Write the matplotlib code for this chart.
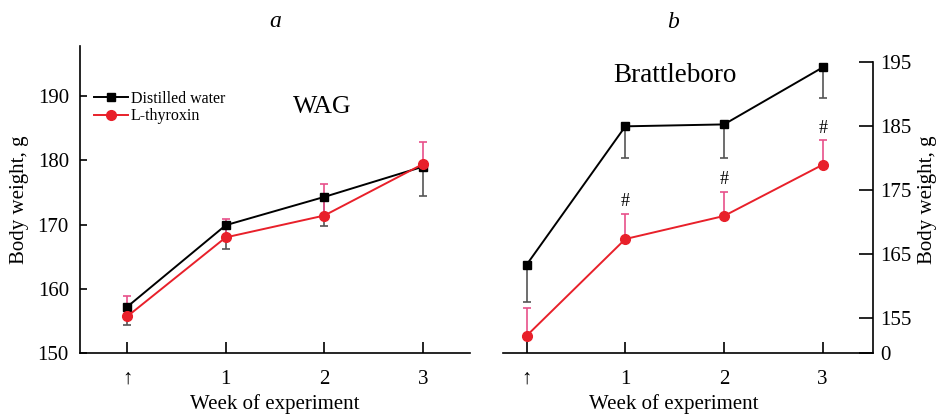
import matplotlib
matplotlib.use('Agg')
import matplotlib.pyplot as plt
import numpy as np

plt.rcParams['font.family'] = ['Liberation Serif', 'DejaVu Serif']

# Data
weeks = [0, 1, 2, 3]
week_labels = ['↑', '1', '2', '3']

# a: WAG
wag_water = [157.2, 169.9, 174.3, 179.0]
wag_water_err = [2.9, 3.7, 4.6, 4.5]
wag_thyr = [155.7, 168.0, 171.4, 179.4]
wag_thyr_err = [3.1, 2.8, 4.9, 3.4]

# b: Brattleboro
br_water = [163.4, 185.0, 185.3, 194.2]
br_water_err = [5.9, 5.0, 5.2, 4.8]
br_thyr = [152.3, 167.4, 171.0, 179.0]
br_thyr_err = [4.4, 3.9, 3.7, 3.8]
br_yticks = [149.6, 155, 165, 175, 185, 195]
br_ytick_labels = ['0', '155', '165', '175', '185', '195']

black = 'black'
red = '#e8202a'
pink = '#e8508a'
grey = '#555555'

fig = plt.figure(figsize=(9.38, 4.17), dpi=100)
ax1 = fig.add_axes([80 / 938, 1 - 353 / 417, 390 / 938, 307 / 417])
ax2 = fig.add_axes([503 / 938, 1 - 353 / 417, 370 / 938, (353 - 62.3) / 417])


def draw(ax, water, water_err, thyr, thyr_err):
    ax.errorbar(weeks, water, yerr=[water_err, [0] * 4], fmt='none',
                ecolor=grey, elinewidth=1.2, capsize=3, capthick=1.2, zorder=2)
    ax.errorbar(weeks, thyr, yerr=[[0] * 4, thyr_err], fmt='none',
                ecolor=pink, elinewidth=1.2, capsize=3, capthick=1.2, zorder=2)
    ax.plot(weeks, water, color=black, lw=1.4, marker='s', ms=6,
            label='Distilled water', zorder=3, clip_on=False)
    ax.plot(weeks, thyr, color=red, lw=1.4, marker='o', ms=7,
            label='L-thyroxin', zorder=4, clip_on=False)
    ax.set_xticks(weeks)
    ax.set_xticklabels(week_labels)
    ax.tick_params(axis='x', direction='in', length=8, width=1.2,
                   labelsize=15, pad=12)
    for s in ax.spines.values():
        s.set_linewidth(1.2)


draw(ax1, wag_water, wag_water_err, wag_thyr, wag_thyr_err)
ax1.set_xlim(-0.48, 3.48)
ax1.set_ylim(150, 197.8)
ax1.set_yticks([150, 160, 170, 180, 190])
ax1.tick_params(axis='y', direction='in', length=5, width=1.2,
                labelsize=15, pad=8)
ax1.spines['top'].set_visible(False)
ax1.spines['right'].set_visible(False)
ax1.set_ylabel('Body weight, g', fontsize=15, labelpad=6)
ax1.set_xlabel('Week of experiment', fontsize=15)
ax1.xaxis.set_label_coords(0.5, -0.134)
ax1.text(0.62, 0.8, 'WAG', transform=ax1.transAxes, fontsize=18.5,
         ha='center', va='center')
ax1.legend(loc='upper left', bbox_to_anchor=(0.02, 0.875), frameon=False,
           fontsize=11.5, handlelength=2.1, handletextpad=0.2,
           labelspacing=0.1, borderaxespad=0)
ax1.set_title('a', fontsize=17, style='italic', pad=14)

draw(ax2, br_water, br_water_err, br_thyr, br_thyr_err)
ax2.set_xlim(-0.24, 3.51)
ax2.set_ylim(149.6, 195)
ax2.set_yticks(br_yticks)
ax2.set_yticklabels(br_ytick_labels)
ax2.yaxis.tick_right()
ax2.tick_params(axis='y', direction='in', length=10, width=1.2,
                labelsize=15, pad=5)
ax2.spines['top'].set_visible(False)
ax2.spines['left'].set_visible(False)
fig.text(927 / 938, 1 - 200 / 417, 'Body weight, g', fontsize=15,
         rotation=90, ha='center', va='center')
ax2.set_xlabel('Week of experiment', fontsize=15)
ax2.xaxis.set_label_coords(0.462, -0.141)
ax2.text(0.465, 0.955, 'Brattleboro', transform=ax2.transAxes, fontsize=19.5,
         ha='center', va='center')
for i in [1, 2, 3]:
    ax2.text(weeks[i], br_thyr[i] + br_thyr_err[i] + 0.6, '#',
             fontsize=13, ha='center', va='bottom')
fig.text(673 / 938, 1 - 22 / 417, 'b', fontsize=17, style='italic',
         ha='center', va='center')

fig.savefig('out.png', dpi=100)
